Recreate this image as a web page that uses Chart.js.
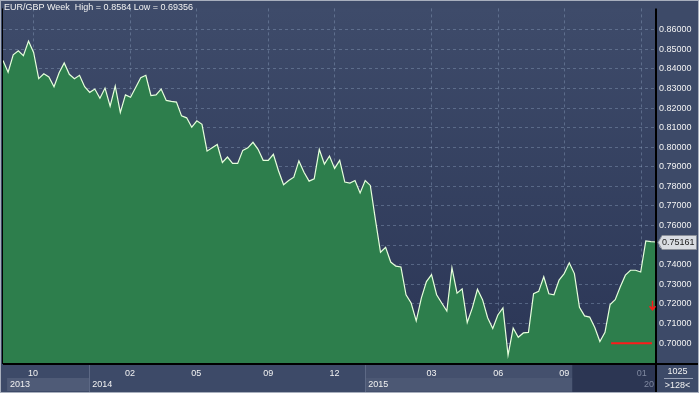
<!DOCTYPE html>
<html>
<head>
<meta charset="utf-8">
<script src="https://cdn.jsdelivr.net/npm/chart.js@4.4.0/dist/chart.umd.min.js"></script>
<style>
html, body { margin: 0; padding: 0; background: #3d4a68; overflow: hidden; }
canvas { display: block; }
</style>
</head>
<body>
<canvas id="chart" width="699" height="393"></canvas>
<script>
// Weekly EUR/GBP closes (Sep 2013 .. Jan 2016)
var closes = [
  0.8442, 0.8383, 0.8472, 0.8492, 0.8467, 0.8542, 0.8484, 0.8350, 0.8375, 0.8359,
  0.8309, 0.8380, 0.8430, 0.8372, 0.8350, 0.8367, 0.8309, 0.8280, 0.8297, 0.8250,
  0.8302, 0.8210, 0.8312, 0.8177, 0.8267, 0.8255, 0.8305, 0.8355, 0.8367, 0.8264,
  0.8267, 0.8297, 0.8239, 0.8234, 0.8230, 0.8160, 0.8150, 0.8102, 0.8135, 0.8117,
  0.7980, 0.7997, 0.8014, 0.7922, 0.7950, 0.7917, 0.7917, 0.7984, 0.7997, 0.8025,
  0.7989, 0.7933, 0.7933, 0.7964, 0.7880, 0.7809, 0.7830, 0.7847, 0.7930, 0.7872,
  0.7827, 0.7839, 0.7989, 0.7914, 0.7955, 0.7892, 0.7933, 0.7822, 0.7817, 0.7830,
  0.7767, 0.7830, 0.7805, 0.7630, 0.7464, 0.7489, 0.7414, 0.7393, 0.7389, 0.7247,
  0.7205, 0.7114, 0.7230, 0.7314, 0.7350, 0.7247, 0.7205, 0.7164, 0.7384, 0.7255,
  0.7277, 0.7105, 0.7180, 0.7275, 0.7222, 0.7130, 0.7075, 0.7144, 0.7180, 0.6939,
  0.7077, 0.7030, 0.7052, 0.7055, 0.7252, 0.7264, 0.7339, 0.7252, 0.7247, 0.7322,
  0.7355, 0.7410, 0.7355, 0.7183, 0.7139, 0.7133, 0.7080, 0.7008, 0.7055, 0.7197,
  0.7222, 0.7288, 0.7347, 0.7372, 0.7372, 0.7363, 0.7522, 0.7518, 0.75161
];
var weeks = closes.map(function (v, i) { return i; });

// Month ticks (week index) and labels
var tickPos = [5.9, 24.9, 37.9, 52, 65, 84, 97.1, 110, 125.2];
var tickLabels = ['10', '02', '05', '09', '12', '03', '06', '09', '01'];

// Year row: boundaries (week index) and labels
var yearStart = [0.8, 16.9, 71, 111.6];
var yearLabels = ['2013', '2014', '2015', '20'];

var yTicks = [0.70, 0.71, 0.72, 0.73, 0.74, 0.75, 0.76, 0.77, 0.78, 0.79, 0.80, 0.81, 0.82, 0.83, 0.84, 0.85, 0.86];

var title = 'EUR/GBP Week  High = 0.8584 Low = 0.69356';
var lastPrice = 0.75161;

// alert line and arrow marker
var alertLevel = 0.70;
var alertFrom = 119.2, alertTo = 127.2;
var arrowAt = 127.3, arrowTop = 0.7216, arrowBottom = 0.7170;

var FONT = '9px "Liberation Sans", Arial, sans-serif';

var decor = {
  id: 'decor',
  beforeDraw: function (chart) {
    var ctx = chart.ctx, a = chart.chartArea, xs = chart.scales.x;
    ctx.save();
    ctx.fillStyle = '#3d4a68';
    ctx.fillRect(0, 0, chart.width, chart.height);
    var g = ctx.createLinearGradient(0, a.top, 0, a.bottom);
    g.addColorStop(0, '#3e4b6a');
    g.addColorStop(1, '#2b3656');
    ctx.fillStyle = g;
    ctx.fillRect(a.left, a.top, a.right - a.left, a.bottom - a.top);

    // year row boxes
    var x13 = xs.getPixelForValue(yearStart[0]);
    var x14 = xs.getPixelForValue(yearStart[1]);
    var x15 = xs.getPixelForValue(yearStart[2]);
    var xDark = xs.getPixelForValue(yearStart[3]);
    ctx.fillStyle = '#4f5b77';
    ctx.fillRect(x13, a.bottom + 14, x14 - x13, 13);
    ctx.fillStyle = '#44506d';
    ctx.fillRect(x15, a.bottom + 1, xDark - x15, 27);
    ctx.fillStyle = '#4c5874';
    ctx.fillRect(x15, a.bottom + 14, xDark - x15, 13);
    ctx.fillStyle = '#2c3653';
    ctx.fillRect(xDark, a.bottom + 1, a.right - xDark, 27);
    ctx.strokeStyle = '#5d6985';
    ctx.lineWidth = 1;
    [x14, x15].forEach(function (px) {
      ctx.beginPath();
      ctx.moveTo(Math.round(px) + 0.5, a.bottom + 1);
      ctx.lineTo(Math.round(px) + 0.5, chart.height - 1);
      ctx.stroke();
    });
    ctx.restore();
  },
  afterDraw: function (chart) {
    var ctx = chart.ctx, a = chart.chartArea, xs = chart.scales.x, ys = chart.scales.y;
    ctx.save();
    // plot frame
    ctx.strokeStyle = '#000';
    ctx.lineWidth = 1;
    ctx.beginPath();
    ctx.moveTo(a.left - 0.5, a.top);
    ctx.lineTo(a.left - 0.5, a.bottom);
    ctx.stroke();
    // price axis divider runs down through the corner box
    ctx.lineWidth = 2;
    ctx.beginPath();
    ctx.moveTo(a.right, a.top);
    ctx.lineTo(a.right, chart.height - 1);
    ctx.moveTo(a.left, a.bottom);
    ctx.lineTo(chart.width - 1, a.bottom);
    ctx.stroke();

    // title
    ctx.font = FONT;
    ctx.fillStyle = '#f2f2f2';
    ctx.textBaseline = 'middle';
    ctx.textAlign = 'left';
    ctx.fillText(title, 4, 8);

    // year labels
    for (var i = 0; i < yearLabels.length; i++) {
      var px = xs.getPixelForValue(yearStart[i]);
      ctx.fillStyle = i === 3 ? '#7f88a0' : '#f2f2f2';
      if (i === 3) {
        ctx.textAlign = 'right';
        ctx.fillText(yearLabels[i], a.right - 2, a.bottom + 21);
      } else {
        ctx.textAlign = 'left';
        ctx.fillText(yearLabels[i], px + 3, a.bottom + 21);
      }
    }

    // alert line
    var ya = ys.getPixelForValue(alertLevel);
    ctx.strokeStyle = '#ff1a1a';
    ctx.lineWidth = 2;
    ctx.beginPath();
    ctx.moveTo(xs.getPixelForValue(alertFrom), ya);
    ctx.lineTo(xs.getPixelForValue(alertTo), ya);
    ctx.stroke();

    // arrow
    var ax = Math.round(xs.getPixelForValue(arrowAt)) + 0.5;
    var t = ys.getPixelForValue(arrowTop), b = ys.getPixelForValue(arrowBottom);
    ctx.lineWidth = 1.5;
    ctx.beginPath();
    ctx.moveTo(ax, t);
    ctx.lineTo(ax, b);
    ctx.moveTo(ax - 3, b - 3.5);
    ctx.lineTo(ax, b);
    ctx.lineTo(ax + 3, b - 3.5);
    ctx.stroke();

    // last price tag
    var yp = Math.round(ys.getPixelForValue(lastPrice));
    var x0 = a.right + 2, x1 = chart.width - 3;
    ctx.fillStyle = '#d9dce2';
    ctx.strokeStyle = '#8a8f99';
    ctx.lineWidth = 1;
    ctx.beginPath();
    ctx.moveTo(x0, yp + 0.5);
    ctx.lineTo(x0 + 4, yp - 6.5);
    ctx.lineTo(x1 + 0.5, yp - 6.5);
    ctx.lineTo(x1 + 0.5, yp + 7.5);
    ctx.lineTo(x0 + 4, yp + 7.5);
    ctx.closePath();
    ctx.fill();
    ctx.stroke();
    ctx.fillStyle = '#1c1c1c';
    ctx.textAlign = 'left';
    ctx.fillText(lastPrice.toFixed(5), x0 + 4, yp + 1);

    // corner box
    ctx.fillStyle = '#f2f2f2';
    ctx.textAlign = 'center';
    var cx = (a.right + chart.width) / 2;
    ctx.fillText('1025', cx, a.bottom + 8);
    ctx.fillText('>128<', cx, a.bottom + 22);
    ctx.strokeStyle = '#9aa3b8';
    ctx.beginPath();
    ctx.moveTo(a.right + 8, a.bottom + 14.5);
    ctx.lineTo(chart.width - 6, a.bottom + 14.5);
    ctx.stroke();

    // outer frame
    ctx.strokeStyle = '#a8afbd';
    ctx.strokeRect(0.5, 0.5, chart.width - 1, chart.height - 1);
    ctx.restore();
  }
};

var gridColor = 'rgba(150, 170, 200, 0.38)';

new Chart(document.getElementById('chart').getContext('2d'), {
  type: 'line',
  data: {
    labels: weeks,
    datasets: [{
      data: closes.map(function (v, i) { return { x: weeks[i], y: v }; }),
      borderColor: '#e6ffdc',
      borderWidth: 1.2,
      backgroundColor: '#2d7e4c',
      fill: 'start',
      pointRadius: 0,
      tension: 0
    }]
  },
  options: {
    responsive: false,
    animation: false,
    devicePixelRatio: 1,
    layout: { padding: { left: 3, top: 1, right: 0, bottom: 0 } },
    plugins: { legend: { display: false }, tooltip: { enabled: false } },
    scales: {
      x: {
        type: 'linear',
        min: 0,
        max: weeks.length - 1,
        z: 1,
        afterFit: function (s) { s.height = 29; },
        afterBuildTicks: function (s) { s.ticks = tickPos.map(function (v) { return { value: v }; }); },
        grid: { color: gridColor, drawTicks: false },
        border: { display: false, dash: [3, 3] },
        ticks: {
          padding: 4,
          maxRotation: 0,
          autoSkip: false,
          font: { family: '"Liberation Sans", Arial, sans-serif', size: 9 },
          color: function (c) { return c.index === tickPos.length - 1 ? '#7f88a0' : '#f2f2f2'; },
          callback: function (v, i) { return tickLabels[i]; }
        }
      },
      y: {
        position: 'right',
        min: 0.68935,
        max: 0.87085,
        z: 1,
        afterFit: function (s) { s.width = 43; },
        afterBuildTicks: function (s) { s.ticks = yTicks.map(function (v) { return { value: v }; }); },
        grid: { color: gridColor, drawTicks: false },
        border: { display: false, dash: [3, 3] },
        ticks: {
          padding: 3,
          font: { family: '"Liberation Sans", Arial, sans-serif', size: 9 },
          color: '#f2f2f2',
          callback: function (v) { return v.toFixed(5); }
        }
      }
    }
  },
  plugins: [decor]
});
</script>
</body>
</html>
